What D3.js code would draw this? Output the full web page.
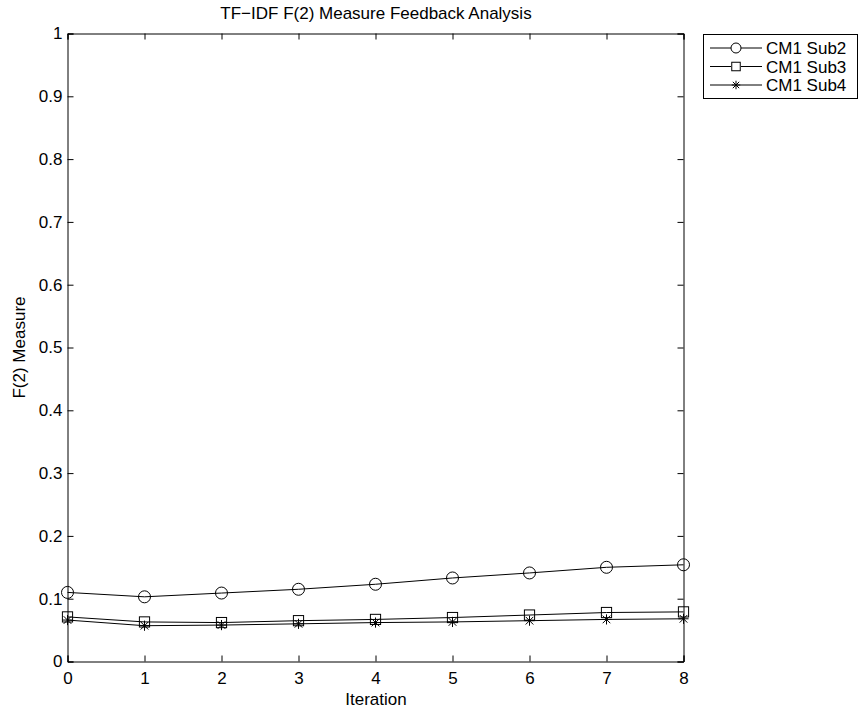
<!DOCTYPE html>
<html>
<head>
<meta charset="utf-8">
<script src="https://cdn.jsdelivr.net/npm/d3@7"></script>
<style>
  body { margin: 0; background: #fff; }
  svg { display: block; font-family: "Liberation Sans", Arial, sans-serif; }
</style>
</head>
<body>
<svg id="chart" width="867" height="713"></svg>
<script>
// Feedback iterations
const iterations = [0, 1, 2, 3, 4, 5, 6, 7, 8];

// F(2) measure per iteration for each subset
const sub2 = [0.110, 0.103, 0.109, 0.115, 0.123, 0.133, 0.141, 0.150, 0.154];
const sub3 = [0.071, 0.063, 0.062, 0.065, 0.067, 0.070, 0.074, 0.078, 0.079];
const sub4 = [0.066, 0.057, 0.058, 0.060, 0.062, 0.063, 0.065, 0.067, 0.068];

const seriesNames = ["CM1 Sub2", "CM1 Sub3", "CM1 Sub4"];
const markerTypes = ["circle", "square", "star"];

const xTicks = [0, 1, 2, 3, 4, 5, 6, 7, 8];
const yTicks = [0, 0.1, 0.2, 0.3, 0.4, 0.5, 0.6, 0.7, 0.8, 0.9, 1];

const series = [sub2, sub3, sub4].map((vals, i) => ({
  name: seriesNames[i],
  marker: markerTypes[i],
  points: iterations.map((it, j) => ({ x: it, y: vals[j] }))
}));

const svg = d3.select("#chart");
const plotLeft = 67.5, plotRight = 683.5, plotTop = 33.5, plotBottom = 661.5;

const x = d3.scaleLinear().domain([0, 8]).range([plotLeft, plotRight]);
const y = d3.scaleLinear().domain([0, 1]).range([plotBottom, plotTop]);

const tickLen = 6;
const fontSize = 17;

// Axes with inward ticks on all four sides
const axisBottom = d3.axisBottom(x).tickValues(xTicks).tickSize(-tickLen).tickPadding(10).tickFormat(d3.format("d"));
const axisTop = d3.axisTop(x).tickValues(xTicks).tickSize(-tickLen).tickFormat("");
const axisLeft = d3.axisLeft(y).tickValues(yTicks).tickSize(-tickLen).tickPadding(5).tickFormat(d => d === 0 || d === 1 ? String(d) : d3.format(".1f")(d));
const axisRight = d3.axisRight(y).tickValues(yTicks).tickSize(-tickLen).tickFormat("");

function styleAxis(g) {
  g.select(".domain").attr("stroke", "#000").attr("stroke-width", 1);
  g.selectAll(".tick line").attr("stroke", "#000");
  g.selectAll(".tick text").attr("fill", "#000").style("font-size", fontSize + "px")
    .style("font-family", "'Liberation Sans', Arial, sans-serif");
}

svg.append("g").attr("transform", `translate(0,${plotBottom})`).call(axisBottom).call(styleAxis);
svg.append("g").attr("transform", `translate(0,${plotTop})`).call(axisTop).call(styleAxis);
svg.append("g").attr("transform", `translate(${plotLeft},0)`).call(axisLeft).call(styleAxis);
svg.append("g").attr("transform", `translate(${plotRight},0)`).call(axisRight).call(styleAxis);

// Marker drawing
function drawMarker(g, type, cx, cy, size) {
  const r = size;
  if (type === "circle") {
    g.append("circle").attr("cx", cx).attr("cy", cy).attr("r", r)
      .attr("fill", "none").attr("stroke", "#000").attr("stroke-width", 1);
  } else if (type === "square") {
    g.append("rect").attr("x", cx - r * 0.85).attr("y", cy - r * 0.85).attr("width", r * 1.7).attr("height", r * 1.7)
      .attr("fill", "none").attr("stroke", "#000").attr("stroke-width", 1);
  } else {
    const s = r * 0.85;
    const p = [
      [cx - s, cy, cx + s, cy],
      [cx, cy - s, cx, cy + s],
      [cx - s * 0.75, cy - s * 0.75, cx + s * 0.75, cy + s * 0.75],
      [cx - s * 0.75, cy + s * 0.75, cx + s * 0.75, cy - s * 0.75]
    ];
    p.forEach(q => g.append("line").attr("x1", q[0]).attr("y1", q[1]).attr("x2", q[2]).attr("y2", q[3])
      .attr("stroke", "#000").attr("stroke-width", 1));
  }
}

const line = d3.line().x(d => x(d.x)).y(d => y(d.y));

const plot = svg.append("g");
series.forEach(s => {
  plot.append("path").datum(s.points).attr("d", line)
    .attr("fill", "none").attr("stroke", "#000").attr("stroke-width", 1);
  const mg = plot.append("g");
  s.points.forEach(p => drawMarker(mg, s.marker, x(p.x), y(p.y), 6));
});

// Title and axis labels
svg.append("text").attr("x", 376).attr("y", 19).attr("text-anchor", "middle")
  .style("font-size", fontSize + "px").text("TF\u2212IDF F(2) Measure Feedback Analysis");
svg.append("text").attr("x", 376).attr("y", 705).attr("text-anchor", "middle")
  .style("font-size", fontSize + "px").text("Iteration");
svg.append("text").attr("transform", `translate(25,${(plotTop + plotBottom) / 2}) rotate(-90)`)
  .attr("text-anchor", "middle").style("font-size", fontSize + "px").text("F(2) Measure");

// Legend
const legend = svg.append("g");
legend.append("rect").attr("x", 703.5).attr("y", 34.5).attr("width", 154).attr("height", 64)
  .attr("fill", "#fff").attr("stroke", "#000").attr("stroke-width", 1);
series.forEach((s, i) => {
  const ly = 48 + i * 18.5;
  legend.append("line").attr("x1", 710).attr("x2", 762).attr("y1", ly).attr("y2", ly)
    .attr("stroke", "#000").attr("stroke-width", 1);
  const mg = legend.append("g");
  if (s.marker !== "star") {
    // white backing so the line does not show through the legend marker
    mg.append("rect").attr("x", 731).attr("y", ly - 4).attr("width", 10).attr("height", 8).attr("fill", "#fff");
  }
  drawMarker(mg, s.marker, 736, ly, 5);
  legend.append("text").attr("x", 766).attr("y", ly + 6)
    .style("font-size", fontSize + "px").text(s.name);
});
</script>
</body>
</html>
